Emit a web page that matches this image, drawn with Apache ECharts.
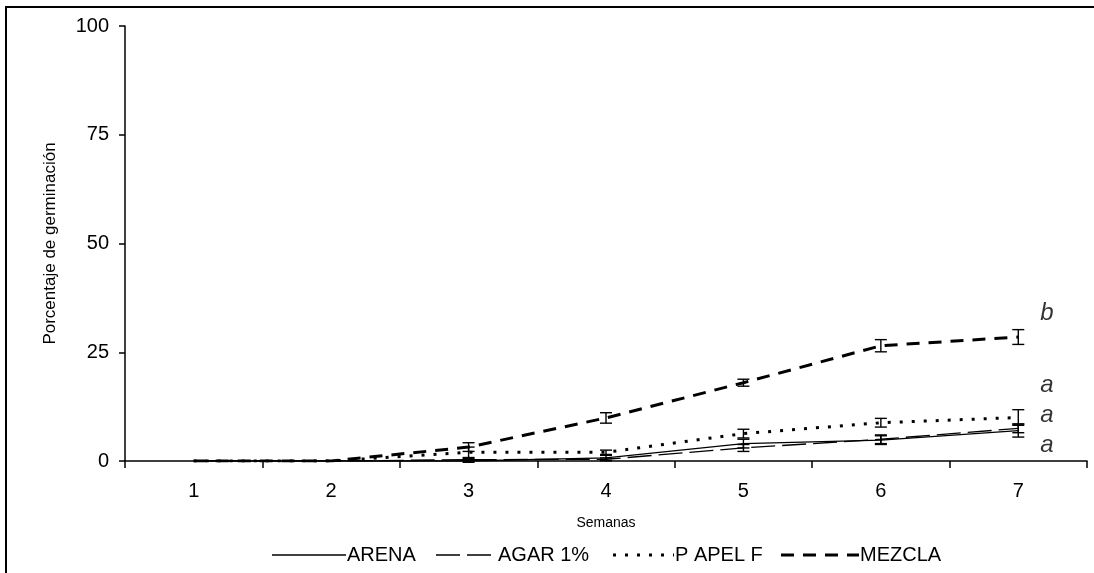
<!DOCTYPE html>
<html><head><meta charset="utf-8">
<script src="https://cdn.jsdelivr.net/npm/echarts@6/dist/echarts.min.js"></script>
<style>html,body{margin:0;padding:0;background:#fff}#c{width:1094px;height:573px}</style>
</head><body><div id="c"></div>
<script>
const weeks = ['1','2','3','4','5','6','7'];
const yTicks = [0,25,50,75,100];
const seriesNames = ['ARENA','AGAR 1%','P APEL F','MEZCLA'];
const arena  = [0,0,0,0.7,4,4.8,7];
const agar   = [0,0,0.3,0.4,3,5,7.5];
const papel  = [0,0,2,2,6.3,8.8,10];
const mezcla = [0,0,3.2,9.9,18,26.5,28.5];
const arenaErr  = [0,0,0.3,0.6,1,1,1.5];
const agarErr   = [0,0,0.3,0.3,0.8,1,1];
const papelErr  = [0,0,1.2,0.5,1,1,1.8];
const mezclaErr = [0,0,1,1.2,0.8,1.4,1.7];
const letters = ['b','a','a','a'];
const letterVals = [34,17.3,10.5,3.7];

const FONT = "'Liberation Sans', Arial, sans-serif";
const chart = echarts.init(document.getElementById('c'));

const styles = [
  {width: 1.3, type: 'solid'},
  {width: 1.3, type: [24, 7]},
  {width: 3, type: [3, 9]},
  {width: 3, type: [13, 9]}
];

function errSeries(name, vals, errs) {
  return {
    type: 'custom', name: name + '_err', z: 5, silent: true,
    data: vals.map((v, i) => [i, v - errs[i], v + errs[i]]),
    renderItem: function (params, api) {
      if (api.value(2) - api.value(1) <= 0) return null;
      const lo = api.coord([api.value(0), api.value(1)]);
      const hi = api.coord([api.value(0), api.value(2)]);
      const w = 6;
      const st = {stroke: '#000', lineWidth: 1.4};
      return {type: 'group', children: [
        {type: 'line', shape: {x1: lo[0], y1: lo[1], x2: hi[0], y2: hi[1]}, style: st},
        {type: 'line', shape: {x1: lo[0]-w, y1: lo[1], x2: lo[0]+w, y2: lo[1]}, style: st},
        {type: 'line', shape: {x1: hi[0]-w, y1: hi[1], x2: hi[0]+w, y2: hi[1]}, style: st}
      ]};
    }
  };
}

function lineSeries(name, data, style) {
  return {
    type: 'line', name: name, data: data, z: 3,
    symbol: 'none',
    lineStyle: Object.assign({color: '#000'}, style)
  };
}

// manual legend (icon widths differ per item in the reference)
const legendY = 555;
const legendItems = [
  {x1: 272, x2: 346},
  {x1: 436, x2: 497},
  {x1: 613, x2: 674},
  {x1: 781, x2: 859}
];
const legendGraphics = [];
legendItems.forEach((it, i) => {
  const s = styles[i];
  legendGraphics.push({
    type: 'line', silent: true,
    shape: {x1: it.x1, y1: legendY, x2: it.x2, y2: legendY},
    style: {stroke: '#000', lineWidth: s.width, lineDash: s.type === 'solid' ? null : s.type}
  });
  legendGraphics.push({
    type: 'text', silent: true, x: it.x2 + 1, y: legendY,
    style: {text: seriesNames[i], font: "20px 'Liberation Sans', Arial, sans-serif",
      fill: '#000', verticalAlign: 'middle', align: 'left'}
  });
});

chart.setOption({
  animation: false,
  backgroundColor: '#fff',
  grid: {left: 125, right: 7, top: 26, bottom: 112, containLabel: false},
  xAxis: {
    type: 'category', data: weeks, boundaryGap: true,
    name: 'Semanas', nameLocation: 'middle', nameGap: 55,
    nameTextStyle: {fontFamily: FONT, fontSize: 14, color: '#000'},
    axisLine: {lineStyle: {color: '#000', width: 1.5}},
    axisTick: {show: true, length: 7, lineStyle: {color: '#000', width: 1.5}},
    axisLabel: {fontFamily: FONT, fontSize: 20, color: '#000', margin: 20},
    splitLine: {show: false}
  },
  yAxis: {
    type: 'value', min: 0, max: 100, interval: 25,
    name: 'Porcentaje de germinación', nameLocation: 'middle', nameGap: 66,
    nameTextStyle: {fontFamily: FONT, fontSize: 17, color: '#000'},
    axisLine: {show: true, lineStyle: {color: '#000', width: 1.5}},
    axisTick: {show: true, length: 6, lineStyle: {color: '#000', width: 1.5}},
    axisLabel: {fontFamily: FONT, fontSize: 20, color: '#000', margin: 16,
      formatter: v => yTicks.includes(v) ? String(v) : ''},
    splitLine: {show: false}
  },
  series: [
    lineSeries(seriesNames[0], arena, styles[0]),
    lineSeries(seriesNames[1], agar, styles[1]),
    lineSeries(seriesNames[2], papel, styles[2]),
    lineSeries(seriesNames[3], mezcla, styles[3]),
    errSeries(seriesNames[0], arena, arenaErr),
    errSeries(seriesNames[1], agar, agarErr),
    errSeries(seriesNames[2], papel, papelErr),
    errSeries(seriesNames[3], mezcla, mezclaErr),
    {
      type: 'scatter', name: 'letters', symbolSize: 0, silent: true,
      data: letterVals.map((v, i) => ({value: [6, v], label: {formatter: letters[i]}})),
      label: {show: true, position: 'right', offset: [17, 0], fontFamily: FONT,
        fontSize: 24, fontStyle: 'italic', color: '#000'}
    }
  ],
  graphic: [
    {type: 'rect', shape: {x: 6, y: 7, width: 1200, height: 700},
     style: {fill: 'none', stroke: '#000', lineWidth: 2}, silent: true}
  ].concat(legendGraphics)
});
</script></body></html>
